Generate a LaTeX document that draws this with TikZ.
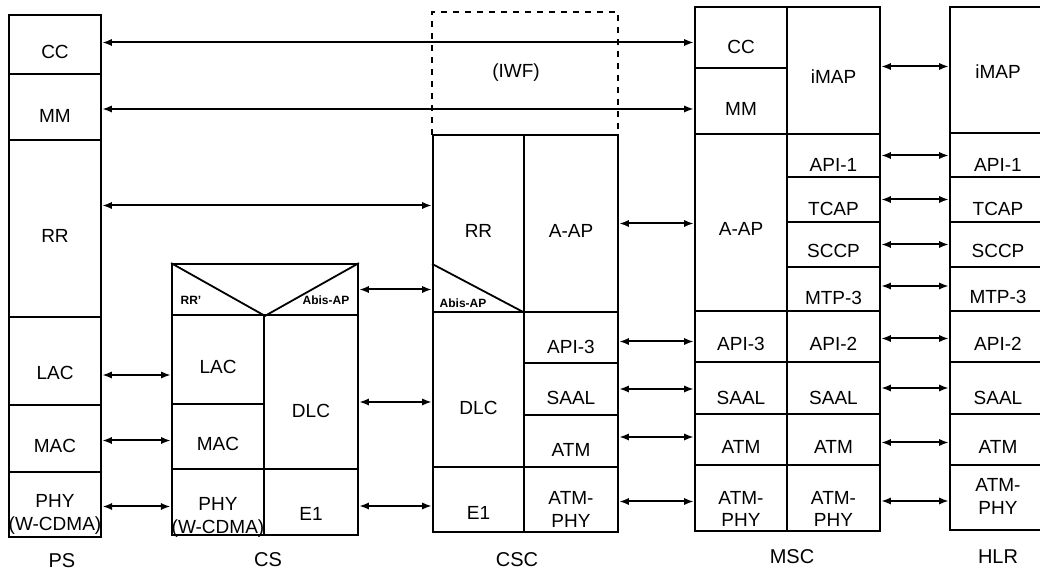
\documentclass[tikz,border=0pt]{standalone}
\usepackage{fontspec}
\setmainfont{Liberation Sans}
\usetikzlibrary{arrows.meta, positioning}
\tikzset{
  layer/.style={draw, line width=0.9pt, inner sep=0pt, align=center, text height=14.5pt},
  cell/.style n args={4}{minimum width={(#3-#1)*0.5pt}, minimum height={(#4-#2)*0.5pt}, at={({(#1+#3)/2},{(#2+#4)/2})}},
  iwf/.style={draw, dashed, line width=0.9pt, inner sep=0pt},
  link/.style={{Latex[length=5pt,width=3.6pt]}-{Latex[length=5pt,width=3.6pt]}, line width=1pt},
  tiny/.style={font=\fontsize{6}{7}\selectfont\bfseries, inner sep=0pt},
  entity/.style={font=\fontsize{10}{12}\selectfont, inner sep=0pt},
  every node/.style={font=\fontsize{9.5}{11.4}\selectfont}
}
\begin{document}
\begin{tikzpicture}[x=0.5pt,y=-0.5pt]
    \useasboundingbox (0,0) rectangle (1040,571);
    \clip (0,0) rectangle (1040,571);
    % PS
    \node[layer, cell={9}{15}{101}{74}] (ps-cc) {CC};
    \node[layer, cell={9}{74}{101}{140}, text height=16pt] (ps-mm) {MM};
    \node[layer, cell={9}{140}{101}{317}] (ps-rr) {RR};
    \node[layer, cell={9}{317}{101}{405}, text height=19pt] (ps-lac) {LAC};
    \node[layer, cell={9}{405}{101}{472}] (ps-mac) {MAC};
    \node[layer, cell={9}{472}{101}{537}, text height=28pt] (ps-phy) {PHY\\(W-CDMA)};
    \node[entity] (ps) at (62,561) {PS};
    % CS
    \node[layer, cell={172}{264}{358}{315}, text height=0pt] (cs-top) {};
    \draw[line width=0.9pt] (cs-top.north west) -- (cs-top.south) -- (cs-top.north east);
    \node[tiny] (cs-rr) at (191,300) {RR'};
    \node[tiny] (cs-abis) at (326,300) {Abis-AP};
    \node[layer, cell={172}{315}{264}{404}] (cs-lac) {LAC};
    \node[layer, cell={172}{404}{264}{469}] (cs-mac) {MAC};
    \node[layer, cell={172}{469}{264}{535}, text height=31.5pt, text depth=0pt] (cs-phy) {PHY\\(W-CDMA)};
    \node[layer, cell={264}{315}{358}{469}, text height=26pt] (cs-dlc) {DLC};
    \node[layer, cell={264}{469}{358}{535}, text height=19pt] (cs-e1) {E1};
    \node[entity] (cs) at (268,560) {CS};
    % CSC
    \node[iwf, cell={432}{12}{618}{135}] (iwf) {};
    \node (iwf-text) at (516,73) {(IWF)};
    \node[layer, cell={433}{135}{524}{312}] (csc-rr) {RR};
    \draw[line width=0.9pt] ([yshift=24.5pt]csc-rr.south west) -- (csc-rr.south east);
    \node[tiny] (csc-abis) at (463,303) {Abis-AP};
    \node[layer, cell={524}{135}{618}{312}] (csc-aap) {A-AP};
    \node[layer, cell={433}{312}{524}{467}, text height=25pt] (csc-dlc) {DLC};
    \node[layer, cell={433}{467}{524}{532}, text height=20pt] (csc-e1) {E1};
    \node[layer, cell={524}{312}{618}{363}, text height=16pt] (csc-api3) {API-3};
    \node[layer, cell={524}{363}{618}{415}, text height=16pt] (csc-saal) {SAAL};
    \node[layer, cell={524}{415}{618}{467}, text height=16pt] (csc-atm) {ATM};
    \node[layer, cell={524}{467}{618}{532}, text height=28pt] (csc-atmphy) {ATM-\\PHY};
    \node[entity] (csc) at (517,560) {CSC};
    % MSC
    \node[layer, cell={695}{7}{787}{68}, text height=16.5pt] (msc-cc) {CC};
    \node[layer, cell={695}{68}{787}{134}] (msc-mm) {MM};
    \node[layer, cell={695}{134}{787}{311}, text height=13.5pt] (msc-aap) {A-AP};
    \node[layer, cell={695}{311}{787}{362}] (msc-api3) {API-3};
    \node[layer, cell={695}{362}{787}{414}, text height=17pt] (msc-saal) {SAAL};
    \node[layer, cell={695}{414}{787}{465}, text height=14pt] (msc-atm) {ATM};
    \node[layer, cell={695}{465}{787}{531}, text height=29pt] (msc-atmphy) {ATM-\\PHY};
    \node[layer, cell={787}{7}{880}{134}, text height=13.5pt] (msc-imap) {iMAP};
    \node[layer, cell={787}{134}{880}{177}, text height=16.5pt] (msc-api1) {API-1};
    \node[layer, cell={787}{177}{880}{222}, text height=16pt] (msc-tcap) {TCAP};
    \node[layer, cell={787}{222}{880}{267}, text height=13.5pt] (msc-sccp) {SCCP};
    \node[layer, cell={787}{267}{880}{311}, text height=16pt] (msc-mtp3) {MTP-3};
    \node[layer, cell={787}{311}{880}{362}] (msc-api2) {API-2};
    \node[layer, cell={787}{362}{880}{414}, text height=17pt] (msc-saal2) {SAAL};
    \node[layer, cell={787}{414}{880}{465}, text height=14pt] (msc-atm2) {ATM};
    \node[layer, cell={787}{465}{880}{531}, text height=29pt] (msc-atmphy2) {ATM-\\PHY};
    \node[entity] (msc) at (792,557) {MSC};
    % HLR
    \node[layer, cell={950}{7}{1046}{133}, text height=9pt] (hlr-imap) {iMAP};
    \node[layer, cell={950}{133}{1046}{177}, text height=16.5pt] (hlr-api1) {API-1};
    \node[layer, cell={950}{177}{1046}{222}, text height=16pt] (hlr-tcap) {TCAP};
    \node[layer, cell={950}{222}{1046}{267}, text height=13.5pt] (hlr-sccp) {SCCP};
    \node[layer, cell={950}{267}{1046}{311}] (hlr-mtp3) {MTP-3};
    \node[layer, cell={950}{311}{1046}{362}] (hlr-api2) {API-2};
    \node[layer, cell={950}{362}{1046}{414}, text height=17pt] (hlr-saal) {SAAL};
    \node[layer, cell={950}{414}{1046}{465}, text height=14pt] (hlr-atm) {ATM};
    \node[layer, cell={950}{465}{1046}{530}, text height=17pt] (hlr-atmphy) {ATM-\\PHY};
    \node[entity] (hlr) at (998,557) {HLR};
    % peer links
    \draw[link] ([yshift=1pt]ps-cc.east) -- ([yshift=1pt]ps-cc.east -| msc-cc.west);
    \draw[link] ([yshift=-1pt]ps-mm.east) -- ([yshift=-1pt]ps-mm.east -| msc-mm.west);
    \draw[link] ([yshift=11.5pt]ps-rr.east) -- ([yshift=11.5pt]ps-rr.east -| csc-rr.west);
    \draw[link] ([yshift=-7pt]ps-lac.east) -- ([yshift=-7pt]ps-lac.east -| cs-lac.west);
    \draw[link] ([yshift=-1pt]ps-mac.east) -- ([yshift=-1pt]ps-mac.east -| cs-mac.west);
    \draw[link] ([yshift=-1pt]ps-phy.east) -- ([yshift=-1pt]ps-phy.east -| cs-phy.west);
    \draw[link] (cs-top.east) -- (cs-top.east -| csc-rr.west);
    \draw[link] ([yshift=-5pt]cs-dlc.east) -- ([yshift=-5pt]cs-dlc.east -| csc-dlc.west);
    \draw[link] ([yshift=-2pt]cs-e1.east) -- ([yshift=-2pt]cs-e1.east -| csc-e1.west);
    \draw[link] (csc-aap.east) -- (csc-aap.east -| msc-aap.west);
    \draw[link] ([yshift=-2pt]csc-api3.east) -- ([yshift=-2pt]csc-api3.east -| msc-api3.west);
    \draw[link] (csc-saal.east) -- (csc-saal.east -| msc-saal.west);
    \draw[link] ([yshift=2pt]csc-atm.east) -- ([yshift=2pt]csc-atm.east -| msc-atm.west);
    \draw[link] ([yshift=-1pt]csc-atmphy.east) -- ([yshift=-1pt]csc-atmphy.east -| msc-atmphy.west);
    \draw[link] ([yshift=2pt]msc-imap.east) -- ([yshift=2pt]msc-imap.east -| hlr-imap.west);
    \draw[link] (msc-api1.east) -- (msc-api1.east -| hlr-api1.west);
    \draw[link] (msc-tcap.east) -- (msc-tcap.east -| hlr-tcap.west);
    \draw[link] (msc-sccp.east) -- (msc-sccp.east -| hlr-sccp.west);
    \draw[link] ([yshift=1.5pt]msc-mtp3.east) -- ([yshift=1.5pt]msc-mtp3.east -| hlr-mtp3.west);
    \draw[link] ([yshift=-1pt]msc-api2.east) -- ([yshift=-1pt]msc-api2.east -| hlr-api2.west);
    \draw[link] (msc-saal2.east) -- (msc-saal2.east -| hlr-saal.west);
    \draw[link] ([yshift=-1.5pt]msc-atm2.east) -- ([yshift=-1.5pt]msc-atm2.east -| hlr-atm.west);
    \draw[link] ([yshift=-1.5pt]msc-atmphy2.east) -- ([yshift=-1.5pt]msc-atmphy2.east -| hlr-atmphy.west);
\end{tikzpicture}
\end{document}
